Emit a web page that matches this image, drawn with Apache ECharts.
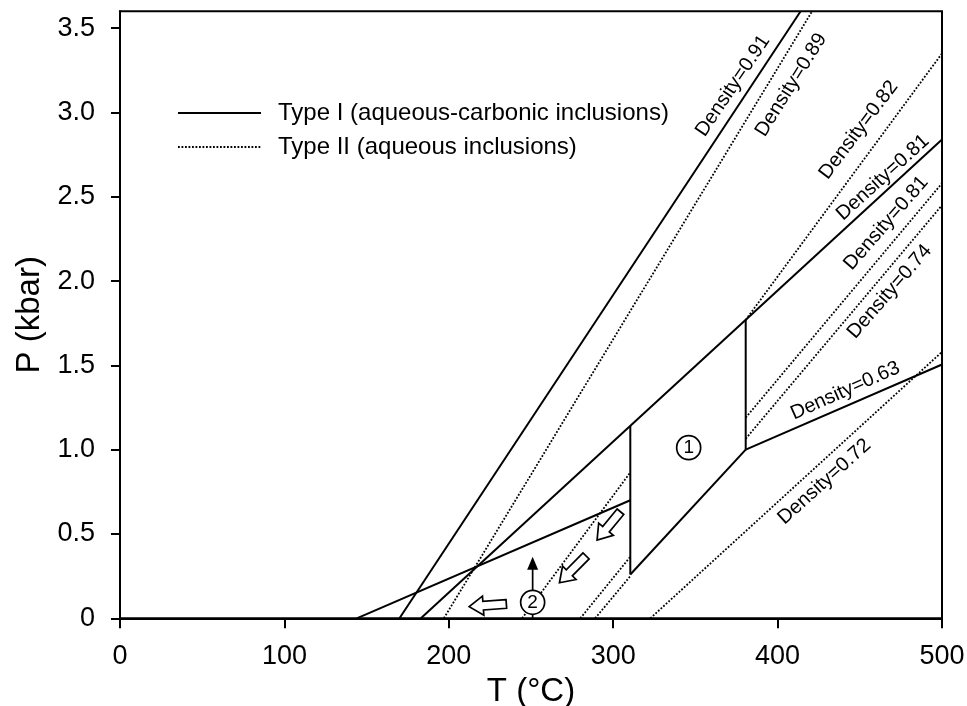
<!DOCTYPE html>
<html>
<head>
<meta charset="utf-8">
<style>
  html, body { margin: 0; padding: 0; background: #fff; }
  #chart { width: 967px; height: 706px; }
</style>
<script src="https://cdn.jsdelivr.net/npm/echarts@6/dist/echarts.min.js"></script>
</head>
<body>
<div id="chart"></div>
<script>
// ---- Isochores (T in °C, P in kbar) ----
// Type I: aqueous-carbonic inclusions (solid lines)
const isoI_091      = [[170, 0], [414, 3.6]];
const isoI_081      = [[183, 0], [500, 2.84]];
const isoI_063_low  = [[144, 0], [310.4, 0.70]];
const isoI_063_high = [[380.6, 1.00], [500, 1.505]];
// Outline of trapping field 1
const fieldLeft   = [[310.4, 0.26], [310.4, 1.14]];
const fieldLower  = [[310.4, 0.26], [380.6, 1.00]];
const fieldRight  = [[380.6, 1.00], [380.6, 1.77]];

// Type II: aqueous inclusions (dotted lines), interrupted inside field 1
const isoII_089 = [[[197, 0], [421, 3.6]]];
const isoII_082 = [[[244.6, 0], [310.4, 0.865]], [[380.6, 1.77], [500, 3.35]]];
const isoII_081 = [[[280, 0], [310.4, 0.365]], [[380.6, 1.19], [500, 2.58]]];
const isoII_074 = [[[289, 0], [310.4, 0.25]], [[380.6, 1.065], [500, 2.45]]];
const isoII_072 = [[[322.6, 0], [500, 1.58]]];

const densityLabels = ['Density=0.91', 'Density=0.89', 'Density=0.82', 'Density=0.81',
                       'Density=0.81', 'Density=0.74', 'Density=0.63', 'Density=0.72'];

// Exhumation path arrows: [tailT, tailP, tipT, tipP]
const pathArrows = [[304.4, 0.632, 290.2, 0.464], [283.5, 0.370, 267.3, 0.211], [235.0, 0.085, 212.4, 0.069]];
const riseArrow  = [[251, 0, 251, 0.365]];
// Circled field numbers: [T, P, number]
const fieldMarks = [[345.9, 1.012, '1'], [251, 0.095, '2']];

const xTicks = [0, 100, 200, 300, 400, 500];
const yTicks = [0, 0.5, 1.0, 1.5, 2.0, 2.5, 3.0, 3.5];

const TYPE_I = 'Type I (aqueous-carbonic inclusions)';
const TYPE_II = 'Type II (aqueous inclusions)';

// ---- Label placement (data coordinates + text angle) ----
const labelPlacement = [
  { at: [372.8, 3.158], angle: 56 },
  { at: [408.2, 3.163], angle: 58 },
  { at: [449.3, 2.896], angle: 53 },
  { at: [464.0, 2.614], angle: 42 },
  { at: [466.0, 2.343], angle: 49 },
  { at: [468.1, 1.937], angle: 49 },
  { at: [441.2, 1.349], angle: 24 },
  { at: [428.5, 0.810], angle: 42 }
];

const FONT = '"Liberation Sans", Arial, Helvetica, sans-serif';

const solidStyle = { color: '#000', width: 2, type: 'solid' };
const dottedStyle = { color: '#000', width: 1.8, type: [1.8, 1.7] };

function lineSeries(name, data, style) {
  return {
    type: 'line', name: name, data: data, symbol: 'none', silent: true,
    lineStyle: style, itemStyle: { color: '#000' }, z: 3, clip: true
  };
}

const series = [];
[isoI_091, isoI_081, isoI_063_low, isoI_063_high, fieldLeft, fieldLower, fieldRight]
  .forEach(d => series.push(lineSeries(TYPE_I, d, solidStyle)));
[isoII_089, isoII_082, isoII_081, isoII_074, isoII_072]
  .forEach(segs => segs.forEach(d => series.push(lineSeries(TYPE_II, d, dottedStyle))));

// Hollow block arrows along the retrograde path
function renderHollowArrow(params, api) {
  const a = api.coord([api.value(0), api.value(1)]);
  const b = api.coord([api.value(2), api.value(3)]);
  const dx = b[0] - a[0], dy = b[1] - a[1];
  const len = Math.hypot(dx, dy);
  const ux = dx / len, uy = dy / len, nx = -uy, ny = ux;
  const hw = 4.3, HW = 9.5, HL = 14;
  const k = [b[0] - ux * HL, b[1] - uy * HL];
  const pts = [
    [a[0] + nx * hw, a[1] + ny * hw], [k[0] + nx * hw, k[1] + ny * hw],
    [k[0] + nx * HW, k[1] + ny * HW], b,
    [k[0] - nx * HW, k[1] - ny * HW], [k[0] - nx * hw, k[1] - ny * hw],
    [a[0] - nx * hw, a[1] - ny * hw]
  ];
  return { type: 'polygon', shape: { points: pts },
           style: { fill: '#fff', stroke: '#000', lineWidth: 1.7 } };
}
series.push({
  type: 'custom', name: 'path', silent: true, z: 5,
  encode: { x: [0, 2], y: [1, 3] },
  data: pathArrows, renderItem: renderHollowArrow
});

// Thin arrow with filled head
function renderRiseArrow(params, api) {
  const a = api.coord([api.value(0), api.value(1)]);
  const b = api.coord([api.value(2), api.value(3)]);
  const HL = 13, HW = 5.5;
  return {
    type: 'group',
    children: [
      { type: 'line', shape: { x1: a[0], y1: a[1], x2: b[0], y2: b[1] + HL - 1 },
        style: { stroke: '#000', lineWidth: 1.7 } },
      { type: 'polygon', shape: { points: [[b[0], b[1]], [b[0] - HW, b[1] + HL], [b[0] + HW, b[1] + HL]] },
        style: { fill: '#000' } }
    ]
  };
}
series.push({
  type: 'custom', name: 'rise', silent: true, z: 5,
  encode: { x: [0, 2], y: [1, 3] },
  data: riseArrow, renderItem: renderRiseArrow
});

// Circled field numbers
series.push({
  type: 'scatter', name: 'fields', silent: true, z: 8,
  symbol: 'circle', symbolSize: 24,
  itemStyle: { color: '#fff', borderColor: '#000', borderWidth: 1.7, opacity: 1 },
  label: { show: true, position: 'inside', color: '#000', fontSize: 19, fontFamily: FONT,
           textBorderWidth: 0, formatter: p => p.value[2] },
  data: fieldMarks
});

// Isochore density labels
series.push({
  type: 'scatter', name: 'labels', silent: true, z: 9,
  symbolSize: 1, itemStyle: { color: 'rgba(0,0,0,0)', opacity: 1 },
  label: { show: true, position: 'inside', color: '#000', fontSize: 20, fontFamily: FONT,
           textBorderWidth: 0, align: 'center', verticalAlign: 'middle' },
  data: densityLabels.map((t, i) => ({
    value: labelPlacement[i].at,
    label: { formatter: t, rotate: labelPlacement[i].angle }
  }))
});

const chart = echarts.init(document.getElementById('chart'), null, { renderer: 'canvas' });
chart.setOption({
  animation: false,
  backgroundColor: '#fff',
  textStyle: { fontFamily: FONT },
  grid: { left: 120, right: 25, top: 11.3, bottom: 87.7, show: true,
          outerBoundsMode: 'none', containLabel: false,
          borderColor: '#000', borderWidth: 2, backgroundColor: 'transparent' },
  legend: {
    orient: 'vertical', left: 177, top: 101, padding: 0,
    itemWidth: 83, itemHeight: 12, itemGap: 10,
    selectedMode: false,
    itemStyle: { opacity: 0, color: 'rgba(0,0,0,0)', borderWidth: 0 },
    data: [TYPE_I, TYPE_II],
    textStyle: { fontSize: 24, color: '#000', fontFamily: FONT, padding: [0, 0, 0, 12] }
  },
  xAxis: {
    type: 'value', min: 0, max: 500, interval: 100,
    name: 'T (°C)', nameLocation: 'middle', nameGap: 52,
    nameTextStyle: { fontSize: 33, color: '#000', fontFamily: FONT },
    axisLine: { show: true, lineStyle: { color: '#000', width: 2 } },
    axisTick: { show: true, inside: false, length: 10, lineStyle: { color: '#000', width: 2 },
                customValues: xTicks },
    axisLabel: { color: '#000', fontSize: 27, fontFamily: FONT, margin: 25, customValues: xTicks },
    splitLine: { show: false }
  },
  yAxis: {
    type: 'value', min: 0, max: 3.6, interval: 0.5,
    name: 'P (kbar)', nameLocation: 'middle', nameGap: 68, nameRotate: 90,
    nameTextStyle: { fontSize: 33, color: '#000', fontFamily: FONT },
    axisLine: { show: true, lineStyle: { color: '#000', width: 2 } },
    axisTick: { show: true, inside: false, length: 9, lineStyle: { color: '#000', width: 2 },
                customValues: yTicks },
    axisLabel: { color: '#000', fontSize: 27, fontFamily: FONT, margin: 25, customValues: yTicks,
                 formatter: v => (v === 0 ? '0' : v.toFixed(1)) },
    splitLine: { show: false }
  },
  series: series
});
</script>
</body>
</html>
